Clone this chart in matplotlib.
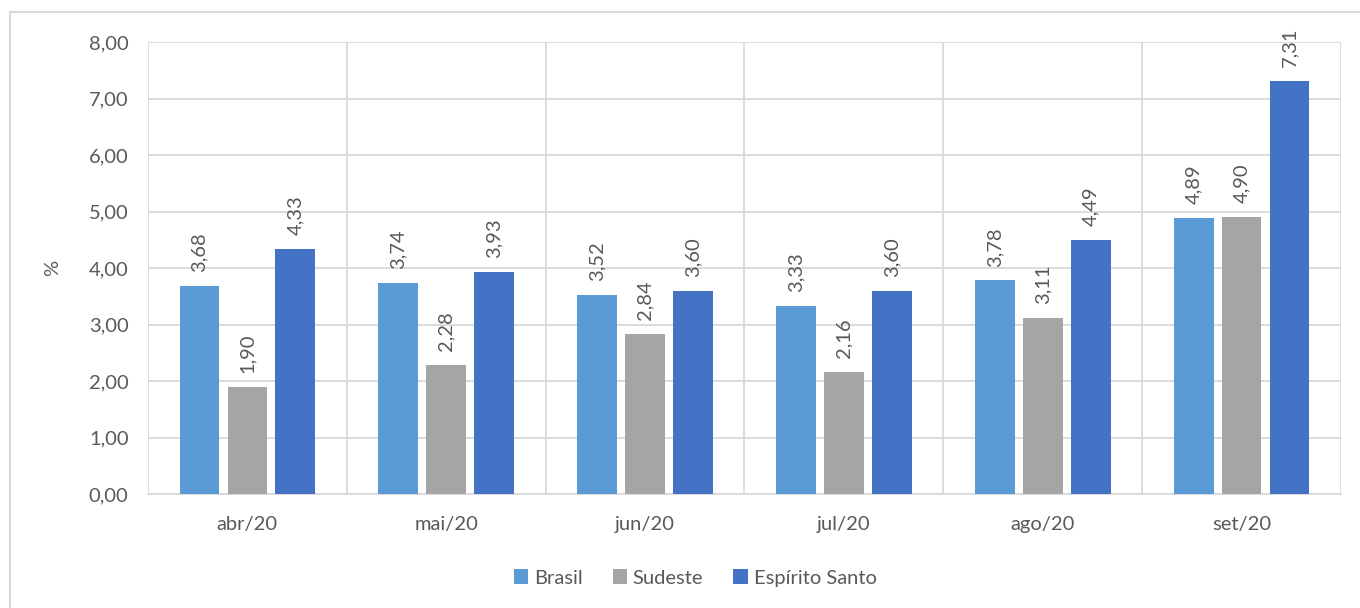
import matplotlib
matplotlib.use("Agg")
import matplotlib.pyplot as plt
from matplotlib.patches import Rectangle
import numpy as np

categories = ["abr/20", "mai/20", "jun/20", "jul/20", "ago/20", "set/20"]
brasil = [3.68, 3.74, 3.52, 3.33, 3.78, 4.89]
sudeste = [1.90, 2.28, 2.84, 2.16, 3.11, 4.90]
espirito_santo = [4.33, 3.93, 3.60, 3.60, 4.49, 7.31]
series_names = ["Brasil", "Sudeste", "Espírito Santo"]
yticks = [0, 1, 2, 3, 4, 5, 6, 7, 8]

colors = ["#5B9BD5", "#A5A5A5", "#4472C4"]
txt = "#595959"
grid = "#D9D9D9"
fs = 14.5

plt.rcParams['font.family'] = ['Lato', 'DejaVu Sans']

fig = plt.figure(figsize=(13.6, 6.08), dpi=100)
fig.patches.append(Rectangle((10/1360, -0.5), 1.5, 1.5 - 12/608, transform=fig.transFigure,
                             fill=False, edgecolor=grid, linewidth=1.5, zorder=0))
ax = fig.add_axes([148/1360, 1 - 494/608, (1341-148)/1360, (494-42)/608])

x = np.arange(len(categories))
w = 0.2
offs = [-0.241, 0, 0.241]
for vals, c, o, name in zip([brasil, sudeste, espirito_santo], colors, offs, series_names):
    bars = ax.bar(x + o, vals, width=w, color=c, label=name, zorder=3)
    for b, v in zip(bars, vals):
        ax.annotate(f"{v:.2f}".replace(".", ","), (b.get_x() + b.get_width()/2, v),
                    xytext=(0, 10), textcoords="offset points", rotation=90,
                    ha="center", va="bottom", fontsize=fs, color=txt)

ax.set_xlim(-0.5, len(categories) - 0.5)
ax.set_ylim(0, 8)
ax.set_yticks(yticks)
ax.set_yticklabels([f"{t:.2f}".replace(".", ",") for t in yticks])
ax.set_xticks(x)
ax.set_xticklabels(categories)
ax.set_xticks(np.arange(len(categories) + 1) - 0.5, minor=True)
ax.tick_params(axis="both", which="both", length=0, labelsize=fs, colors=txt)
ax.tick_params(axis="x", pad=16)
ax.tick_params(axis="y", pad=14)
ax.grid(axis="y", which="major", color=grid, linewidth=1.3, zorder=0)
ax.grid(axis="x", which="minor", color=grid, linewidth=1.3, zorder=0)
for s in ["top", "right", "left"]:
    ax.spines[s].set_visible(False)
ax.spines["bottom"].set_color(grid)
ax.spines["bottom"].set_linewidth(1.3)
ax.set_ylabel("%", fontsize=fs, color=txt, labelpad=20)

fig.legend(loc="center", bbox_to_anchor=(695/1360, 1 - 578/608), ncol=3, frameon=False,
           fontsize=fs, labelcolor=txt, handlelength=0.7, handleheight=0.7,
           handletextpad=0.3, columnspacing=1.5)

fig.savefig("out.png", dpi=100)
